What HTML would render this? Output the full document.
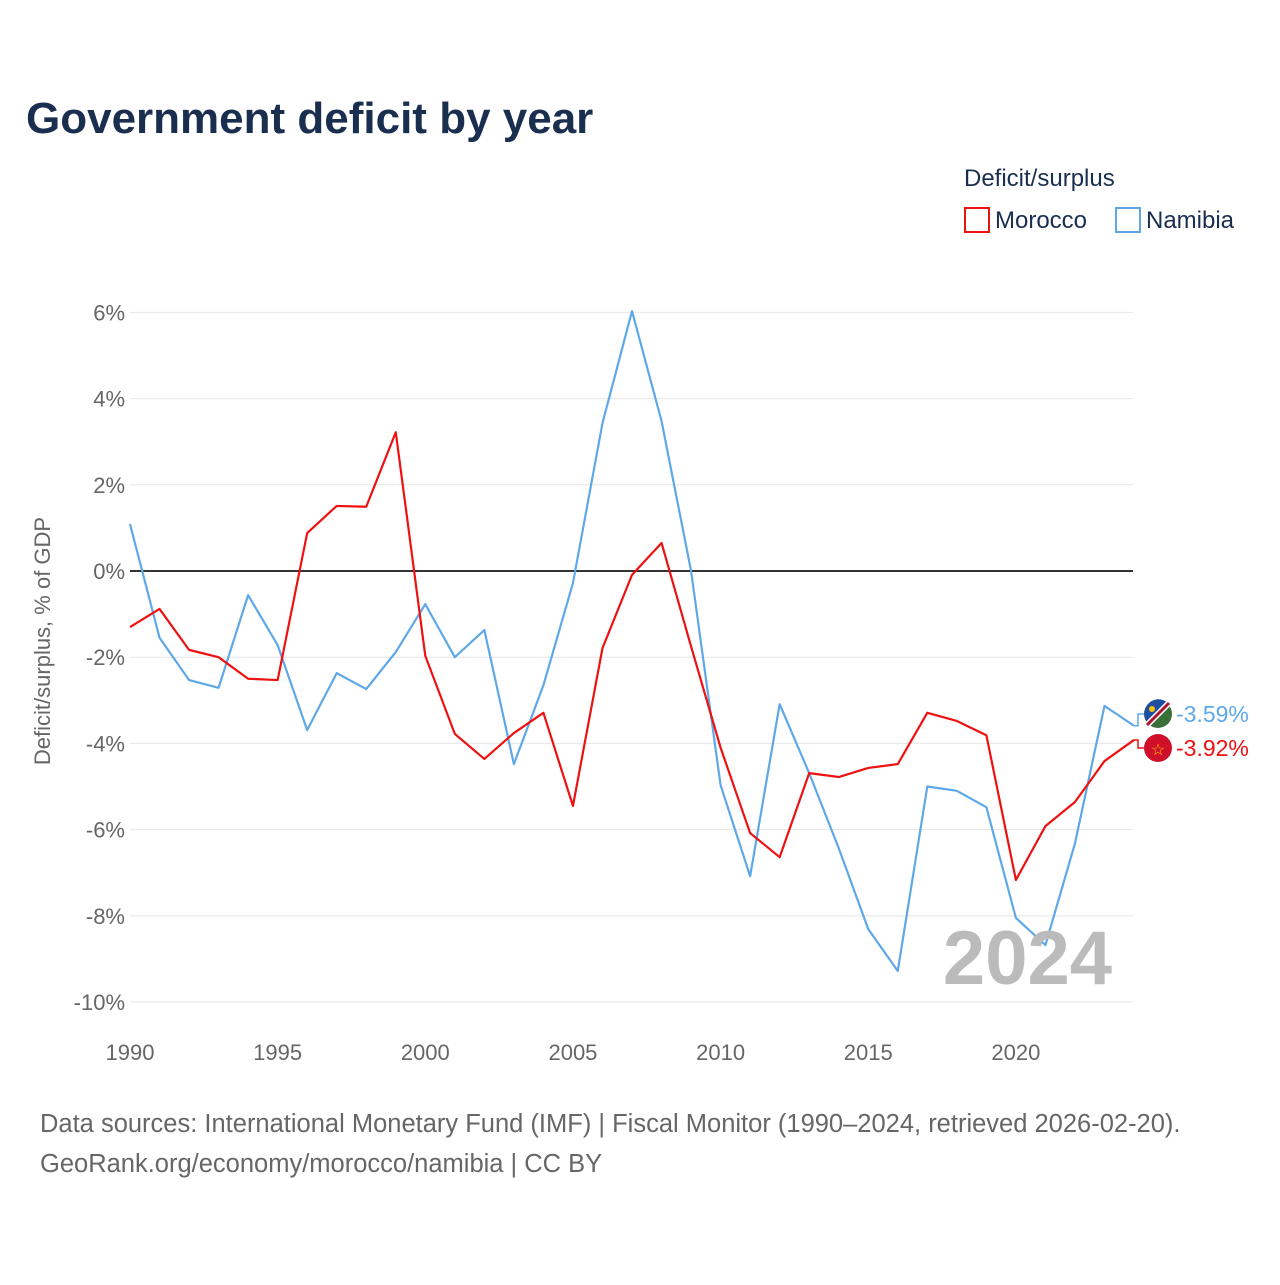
<!DOCTYPE html>
<html><head><meta charset="utf-8"><style>
body{margin:0;background:#fff;font-family:"Liberation Sans",sans-serif;}
svg text{font-family:"Liberation Sans",sans-serif;}
</style></head><body>
<svg id="chart" width="1280" height="1280" viewBox="0 0 1280 1280">
<text x="26" y="133" font-size="44" font-weight="bold" fill="#1a2e4f">Government deficit by year</text>
<text x="964" y="186" font-size="24" fill="#1a2e4f">Deficit/surplus</text>
<g><rect x="965" y="208" width="24" height="24" fill="none" stroke="#ee1111" stroke-width="2"/><text x="995" y="228" font-size="24" fill="#1a2e4f">Morocco</text></g>
<g><rect x="1116" y="208" width="24" height="24" fill="none" stroke="#5fa8e8" stroke-width="2"/><text x="1146" y="228" font-size="24" fill="#1a2e4f">Namibia</text></g>
<text transform="translate(50,641) rotate(-90)" text-anchor="middle" font-size="22" fill="#666">Deficit/surplus, % of GDP</text>
<g id="grid"></g><g id="lines"></g>
<text x="1112" y="984" text-anchor="end" font-size="76" font-weight="bold" fill="#bbb">2024</text>
<text x="40" y="1132" font-size="25.5" fill="#666">Data sources: International Monetary Fund (IMF) | Fiscal Monitor (1990–2024, retrieved 2026-02-20).</text>
<text x="40" y="1172" font-size="25.5" fill="#666">GeoRank.org/economy/morocco/namibia | CC BY</text>
</svg>
<script>
const years=[1990,1991,1992,1993,1994,1995,1996,1997,1998,1999,2000,2001,2002,2003,2004,2005,2006,2007,2008,2009,2010,2011,2012,2013,2014,2015,2016,2017,2018,2019,2020,2021,2022,2023,2024];
const morocco=[-1.30,-0.88,-1.83,-2.0,-2.5,-2.53,0.88,1.51,1.49,3.22,-1.97,-3.78,-4.36,-3.76,-3.29,-5.45,-1.79,-0.09,0.65,-1.75,-4.1,-6.08,-6.64,-4.69,-4.78,-4.57,-4.48,-3.29,-3.48,-3.81,-7.17,-5.92,-5.36,-4.41,-3.92];
const namibia=[1.09,-1.55,-2.53,-2.71,-0.56,-1.72,-3.69,-2.37,-2.74,-1.88,-0.77,-2.0,-1.37,-4.48,-2.65,-0.28,3.43,6.03,3.48,0.0,-4.97,-7.08,-3.09,-4.69,-6.43,-8.31,-9.28,-5.0,-5.1,-5.48,-8.05,-8.68,-6.32,-3.13,-3.59];
const yTicks=[6,4,2,0,-2,-4,-6,-8,-10];
const xTicks=[1990,1995,2000,2005,2010,2015,2020];
const NS='http://www.w3.org/2000/svg';
const X=y=>130+(y-1990)*29.53;
const Y=v=>571-v*43.1;
function mk(t,a,p){const e=document.createElementNS(NS,t);for(const k in a)e.setAttribute(k,a[k]);p.appendChild(e);return e;}
const g=document.getElementById('grid'),L=document.getElementById('lines');
yTicks.forEach(v=>{
 const ln=mk('line',{x1:130,x2:1133,y1:Y(v),y2:Y(v),stroke:v===0?'#333':'#e6e6e6','stroke-width':v===0?2:1},g);
 
 
 const t=mk('text',{x:125,y:Y(v)+8,'text-anchor':'end','font-size':22,fill:'#666'},g);
 t.textContent=v+'%';
 
 
});
xTicks.forEach(v=>{
 const t=mk('text',{x:X(v),y:1060,'text-anchor':'middle','font-size':22,fill:'#666'},g);
 t.textContent=v;
 
 
});
function line(d,c,name){
 const p=mk('polyline',{points:d.map((v,i)=>X(years[i])+','+Y(v)).join(' '),fill:'none',stroke:c,'stroke-width':2.2,'stroke-linejoin':'round'},L);
 
 
}
line(namibia,'#5fa8e8','namibia-line');
line(morocco,'#ee1111','morocco-line');
function endLabel(v,ly,c,name,flag){
 const x0=X(2024);
 mk('polyline',{points:`${x0},${Y(v)} ${x0+4},${Y(v)} ${x0+4},${ly} ${x0+10},${ly}`,fill:'none',stroke:c,'stroke-width':1.5},L);
 const f=mk('circle',{cx:1158,cy:ly,r:14,fill:flag},L);
 
 
 const t=mk('text',{x:1176,y:ly+8,'font-size':23,fill:c},L);
 t.textContent=v.toFixed(2)+'%';
 
 
}
endLabel(namibia[namibia.length-1],714,'#5fa8e8','namibia','#3a6f3a');
endLabel(morocco[morocco.length-1],748,'#ee1111','morocco','#d0102a');
// flag details
mk('path',{d:'M1148,704 A14,14 0 0 1 1168,703 L1148,723 A14,14 0 0 1 1148,704 Z',fill:'#1f4fa0'},L);
mk('line',{x1:1147,y1:725,x2:1169,y2:703,stroke:'#fff','stroke-width':6},L);
mk('line',{x1:1147,y1:725,x2:1169,y2:703,stroke:'#b01030','stroke-width':3},L);
mk('circle',{cx:1152,cy:709,r:3,fill:'#f5c400'},L);
mk('text',{x:1158,y:755,'text-anchor':'middle','font-size':16,fill:'#f5c400'},L).textContent='☆';
</script>
</body></html>
